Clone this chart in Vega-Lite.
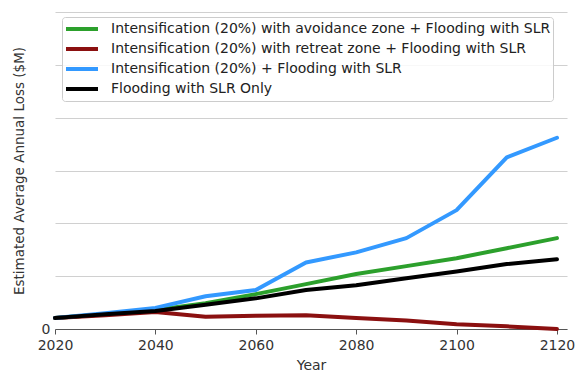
{
  "$schema": "https://vega.github.io/schema/vega-lite/v6.json",
  "width": 512,
  "height": 317,
  "autosize": {"type": "none"},
  "padding": {"left": 55, "top": 12, "right": 20, "bottom": 54},
  "background": "white",
  "config": {
    "font": "DejaVu Sans",
    "view": {"stroke": null}
  },
  "data": {
    "values": [
      {"Year": 2020, "s": "Intensification (20%) with avoidance zone + Flooding with SLR", "v": 0.21},
      {"Year": 2030, "s": "Intensification (20%) with avoidance zone + Flooding with SLR", "v": 0.28},
      {"Year": 2040, "s": "Intensification (20%) with avoidance zone + Flooding with SLR", "v": 0.36},
      {"Year": 2050, "s": "Intensification (20%) with avoidance zone + Flooding with SLR", "v": 0.49},
      {"Year": 2060, "s": "Intensification (20%) with avoidance zone + Flooding with SLR", "v": 0.66},
      {"Year": 2070, "s": "Intensification (20%) with avoidance zone + Flooding with SLR", "v": 0.85},
      {"Year": 2080, "s": "Intensification (20%) with avoidance zone + Flooding with SLR", "v": 1.04},
      {"Year": 2090, "s": "Intensification (20%) with avoidance zone + Flooding with SLR", "v": 1.19},
      {"Year": 2100, "s": "Intensification (20%) with avoidance zone + Flooding with SLR", "v": 1.34},
      {"Year": 2110, "s": "Intensification (20%) with avoidance zone + Flooding with SLR", "v": 1.53},
      {"Year": 2120, "s": "Intensification (20%) with avoidance zone + Flooding with SLR", "v": 1.72},
      {"Year": 2020, "s": "Intensification (20%) with retreat zone + Flooding with SLR", "v": 0.21},
      {"Year": 2030, "s": "Intensification (20%) with retreat zone + Flooding with SLR", "v": 0.26},
      {"Year": 2040, "s": "Intensification (20%) with retreat zone + Flooding with SLR", "v": 0.32},
      {"Year": 2050, "s": "Intensification (20%) with retreat zone + Flooding with SLR", "v": 0.23},
      {"Year": 2060, "s": "Intensification (20%) with retreat zone + Flooding with SLR", "v": 0.25},
      {"Year": 2070, "s": "Intensification (20%) with retreat zone + Flooding with SLR", "v": 0.26},
      {"Year": 2080, "s": "Intensification (20%) with retreat zone + Flooding with SLR", "v": 0.21},
      {"Year": 2090, "s": "Intensification (20%) with retreat zone + Flooding with SLR", "v": 0.16},
      {"Year": 2100, "s": "Intensification (20%) with retreat zone + Flooding with SLR", "v": 0.09},
      {"Year": 2110, "s": "Intensification (20%) with retreat zone + Flooding with SLR", "v": 0.05},
      {"Year": 2120, "s": "Intensification (20%) with retreat zone + Flooding with SLR", "v": 0.0},
      {"Year": 2020, "s": "Intensification (20%) + Flooding with SLR", "v": 0.21},
      {"Year": 2030, "s": "Intensification (20%) + Flooding with SLR", "v": 0.30},
      {"Year": 2040, "s": "Intensification (20%) + Flooding with SLR", "v": 0.40},
      {"Year": 2050, "s": "Intensification (20%) + Flooding with SLR", "v": 0.62},
      {"Year": 2060, "s": "Intensification (20%) + Flooding with SLR", "v": 0.74},
      {"Year": 2070, "s": "Intensification (20%) + Flooding with SLR", "v": 1.26},
      {"Year": 2080, "s": "Intensification (20%) + Flooding with SLR", "v": 1.45},
      {"Year": 2090, "s": "Intensification (20%) + Flooding with SLR", "v": 1.72},
      {"Year": 2100, "s": "Intensification (20%) + Flooding with SLR", "v": 2.25},
      {"Year": 2110, "s": "Intensification (20%) + Flooding with SLR", "v": 3.25},
      {"Year": 2120, "s": "Intensification (20%) + Flooding with SLR", "v": 3.62},
      {"Year": 2020, "s": "Flooding with SLR Only", "v": 0.21},
      {"Year": 2030, "s": "Flooding with SLR Only", "v": 0.28},
      {"Year": 2040, "s": "Flooding with SLR Only", "v": 0.34},
      {"Year": 2050, "s": "Flooding with SLR Only", "v": 0.46},
      {"Year": 2060, "s": "Flooding with SLR Only", "v": 0.58},
      {"Year": 2070, "s": "Flooding with SLR Only", "v": 0.74},
      {"Year": 2080, "s": "Flooding with SLR Only", "v": 0.83},
      {"Year": 2090, "s": "Flooding with SLR Only", "v": 0.96},
      {"Year": 2100, "s": "Flooding with SLR Only", "v": 1.09},
      {"Year": 2110, "s": "Flooding with SLR Only", "v": 1.23},
      {"Year": 2120, "s": "Flooding with SLR Only", "v": 1.32}
    ]
  },
  "mark": {"type": "line", "strokeWidth": 4, "strokeCap": "round", "strokeJoin": "round"},
  "encoding": {
    "x": {
      "field": "Year", "type": "quantitative",
      "scale": {"domain": [2020, 2122], "nice": false, "zero": false},
      "axis": {
        "values": [2020, 2040, 2060, 2080, 2100, 2120],
        "format": "d",
        "grid": false,
        "labelFlush": false,
        "domainColor": "#555555",
        "tickColor": "#555555",
        "tickSize": 5,
        "labelFontSize": 14,
        "labelColor": "#333333",
        "labelPadding": 4,
        "title": "Year",
        "titleFontSize": 14,
        "titleFontWeight": "normal",
        "titleColor": "#333333",
        "titlePadding": 6
      }
    },
    "y": {
      "field": "v", "type": "quantitative",
      "scale": {"domain": [0, 6], "nice": false},
      "axis": {
        "values": [0, 1, 2, 3, 4, 5, 6],
        "labelExpr": "datum.value == 0 ? '0' : ''",
        "domain": false,
        "ticks": false,
        "grid": true,
        "gridColor": "#d0d0d0",
        "gridWidth": 1.2,
        "labelFontSize": 14,
        "labelColor": "#333333",
        "labelPadding": 5,
        "title": "Estimated Average Annual Loss ($M)",
        "titleFontSize": 13.5,
        "titleFontWeight": "normal",
        "titleColor": "#333333",
        "titlePadding": 15
      }
    },
    "color": {
      "field": "s", "type": "nominal",
      "sort": null,
      "scale": {
        "domain": [
          "Intensification (20%) with avoidance zone + Flooding with SLR",
          "Intensification (20%) with retreat zone + Flooding with SLR",
          "Intensification (20%) + Flooding with SLR",
          "Flooding with SLR Only"
        ],
        "range": ["#2ca02c", "#8b1010", "#3399ff", "#000000"]
      },
      "legend": {
        "title": null,
        "orient": "none",
        "legendX": 7,
        "legendY": 5,
        "symbolType": "stroke",
        "symbolSize": 1024,
        "symbolStrokeWidth": 4,
        "clipHeight": 20,
        "labelFontSize": 14,
        "labelColor": "#222222",
        "labelLimit": 600,
        "rowPadding": 0,
        "padding": 2,
        "strokeColor": "#cccccc",
        "fillColor": "rgba(255,255,255,0.85)",
        "cornerRadius": 3,
        "labelOffset": 11
      }
    }
  }
}
